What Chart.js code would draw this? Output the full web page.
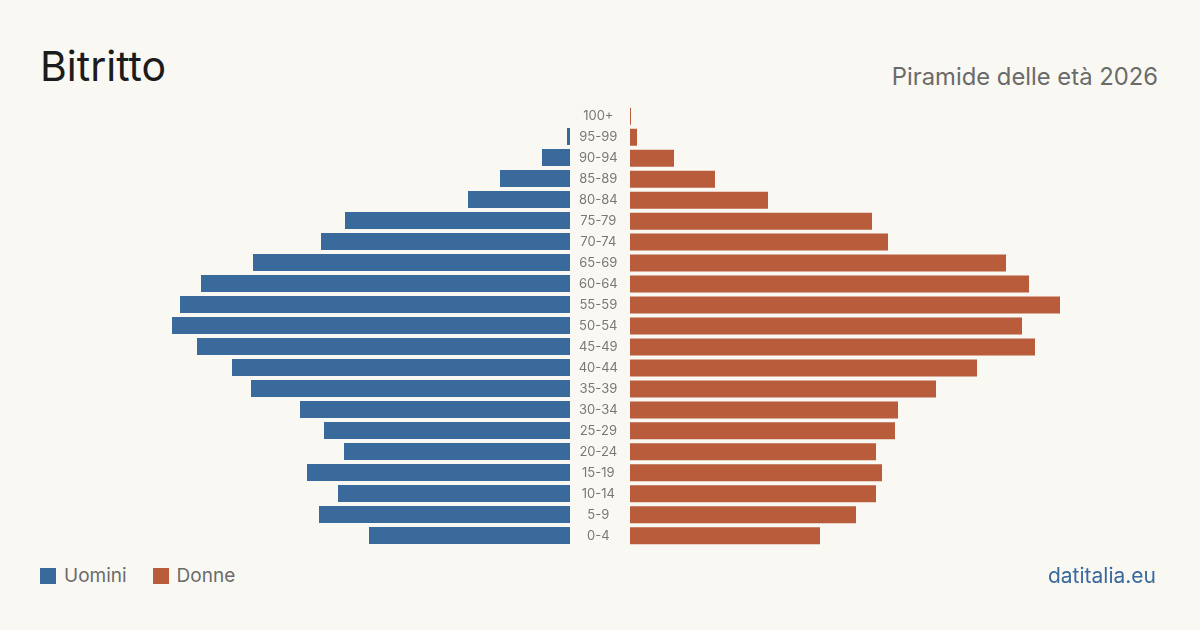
<!DOCTYPE html>
<html>
<head>
<meta charset="utf-8">
<script src="https://cdn.jsdelivr.net/npm/chart.js@4/dist/chart.umd.min.js"></script>
<style>
    body { margin: 0; background: #f9f8f3; font-family: Inter, "Noto Sans", sans-serif; }
    #page { position: relative; width: 1200px; height: 630px; overflow: hidden; }
    h1 { position: absolute; left: 40px; top: 46px; margin: 0; font-size: 41px; font-weight: 400; color: #1c1c1c; line-height: 1; }
    .sub { position: absolute; right: 42px; top: 65px; font-size: 23.8px; color: #6b6b6b; line-height: 1; }
    #left { position: absolute; left: 140px; top: 105px; }
    #right { position: absolute; left: 570px; top: 86.2px; }
    .legend { position: absolute; left: 40px; top: 566px; font-size: 19px; color: #6b6b6b; display: flex; align-items: center; line-height: 20px; }
    .legend span.box { display: inline-block; width: 16px; height: 16px; margin-right: 8px; }
    .legend span.item { margin-right: 26px; display: flex; align-items: center; }
    .brand { position: absolute; right: 44px; top: 565px; font-size: 21px; color: #3a6a9c; line-height: 22px; }
</style>
</head>
<body>
<div id="page">
    <h1>Bitritto</h1>
    <div class="sub">Piramide delle età 2026</div>
    <canvas id="left" width="430" height="441"></canvas>
    <!-- taller than the left one: the age labels pad the plot area top and bottom -->
    <canvas id="right" width="490" height="480"></canvas>
    <div class="legend">
        <span class="item"><span class="box" style="background:#3a6a9c"></span>Uomini</span>
        <span class="item"><span class="box" style="background:#b85c3c"></span>Donne</span>
    </div>
    <div class="brand">datitalia.eu</div>
</div>
<script>
// age classes, youngest first
const ages = ['0-4', '5-9', '10-14', '15-19', '20-24', '25-29', '30-34', '35-39', '40-44', '45-49',
    '50-54', '55-59', '60-64', '65-69', '70-74', '75-79', '80-84', '85-89', '90-94', '95-99', '100+'];
const uomini = [201, 251, 232, 263, 226, 246, 270, 319, 338, 373, 398, 390, 369, 317, 249, 225, 102, 70, 28, 3, 0];
const donne = [190, 226, 246, 252, 246, 265, 268, 306, 347, 405, 392, 430, 399, 376, 258, 242, 138, 85, 44, 7, 1];
const maxValue = 430;

const blue = '#3a6a9c';
const red = '#b85c3c';

function baseOptions(reverseX) {
    return {
        indexAxis: 'y',
        responsive: false,
        animation: false,
        layout: { padding: 0 },
        plugins: { legend: { display: false }, tooltip: { enabled: false } },
        scales: {
            x: { display: false, min: 0, max: maxValue, reverse: reverseX },
            y: { display: false, reverse: true, grid: { display: false } }
        }
    };
}

new Chart(document.getElementById('left'), {
    type: 'bar',
    data: {
        labels: ages,
        datasets: [{ data: uomini, backgroundColor: blue, barPercentage: 0.81, categoryPercentage: 1 }]
    },
    options: baseOptions(true)
});

// the age labels sit in the gap between the two halves, as the y axis of the right chart
const rightOptions = baseOptions(false);
rightOptions.scales.y = {
    reverse: true,
    grid: { display: false, drawTicks: false },
    border: { display: false },
    afterFit: scale => { scale.width = 60; },
    ticks: {
        crossAlign: 'center',
        padding: 12,
        autoSkip: false,
        color: '#787878',
        font: { family: 'Inter, "Noto Sans", sans-serif', size: 13 }
    }
};

new Chart(document.getElementById('right'), {
    type: 'bar',
    data: {
        labels: ages,
        datasets: [{ data: donne, backgroundColor: red, barPercentage: 0.81, categoryPercentage: 1 }]
    },
    options: rightOptions
});
</script>
</body>
</html>
